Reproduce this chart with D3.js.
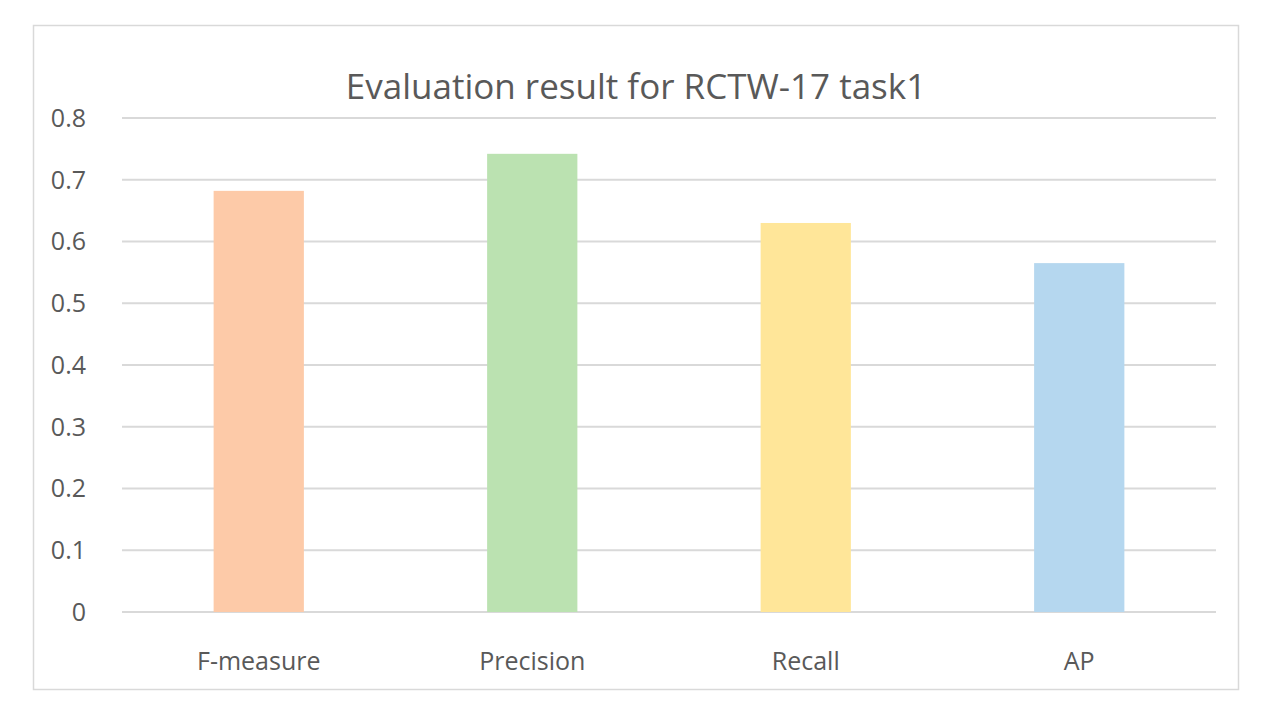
<!DOCTYPE html>
<html>
<head>
<meta charset="utf-8">
<script src="https://cdn.jsdelivr.net/npm/d3@7"></script>
<style>
  body { margin: 0; background: white; }
  text { font-family: "Open Sans", "Liberation Sans", sans-serif; fill: #595959; }
</style>
</head>
<body>
<div id="container"></div>
<script>
const width = 1274;
const height = 716;

const categories = ["F-measure", "Precision", "Recall", "AP"];
const values = [0.682, 0.742, 0.630, 0.565];
const barColors = ["#fdcaa8", "#bbe2b1", "#ffe699", "#b5d7ef"];
const yTicks = [0, 0.1, 0.2, 0.3, 0.4, 0.5, 0.6, 0.7, 0.8];

const margin = { left: 122, right: 58, top: 118, bottom: 104 };

let svg = d3.select("#container").append("svg")
  .attr("width", width)
  .attr("height", height);

// chart frame
svg.append("rect")
  .attr("x", 33.5).attr("y", 25.5)
  .attr("width", 1205).attr("height", 664)
  .attr("fill", "white")
  .attr("stroke", "#d9d9d9")
  .attr("stroke-width", 1.5);

let x = d3.scaleBand()
  .domain(categories)
  .range([margin.left, width - margin.right])
  .paddingInner(0.67)
  .paddingOuter(0.335);

let y = d3.scaleLinear()
  .domain([0, 0.8])
  .range([height - margin.bottom, margin.top]);

// gridlines
svg.append("g").selectAll("line").data(yTicks).enter().append("line")
  .attr("x1", margin.left)
  .attr("x2", width - margin.right)
  .attr("y1", d => y(d))
  .attr("y2", d => y(d))
  .attr("stroke", "#d9d9d9")
  .attr("stroke-width", 2);

// y tick labels
svg.append("g").selectAll("text").data(yTicks).enter().append("text")
  .attr("x", 86)
  .attr("y", d => y(d))
  .attr("dy", "0.35em")
  .attr("text-anchor", "end")
  .attr("font-size", 25)
  .text(d => d === 0 ? "0" : d3.format(".1f")(d));

// bars
svg.append("g").selectAll("rect").data(values).enter().append("rect")
  .attr("x", (d, i) => x(categories[i]))
  .attr("y", d => y(d))
  .attr("width", x.bandwidth())
  .attr("height", d => y(0) - y(d))
  .attr("fill", (d, i) => barColors[i]);

// category labels
svg.append("g").selectAll("text").data(categories).enter().append("text")
  .attr("x", d => x(d) + x.bandwidth() / 2)
  .attr("y", 670)
  .attr("text-anchor", "middle")
  .attr("font-size", 25)
  .text(d => d);

// title
svg.append("text")
  .attr("x", 636)
  .attr("y", 99)
  .attr("text-anchor", "middle")
  .attr("font-size", 35)
  .text("Evaluation result for RCTW-17 task1");
</script>
</body>
</html>
